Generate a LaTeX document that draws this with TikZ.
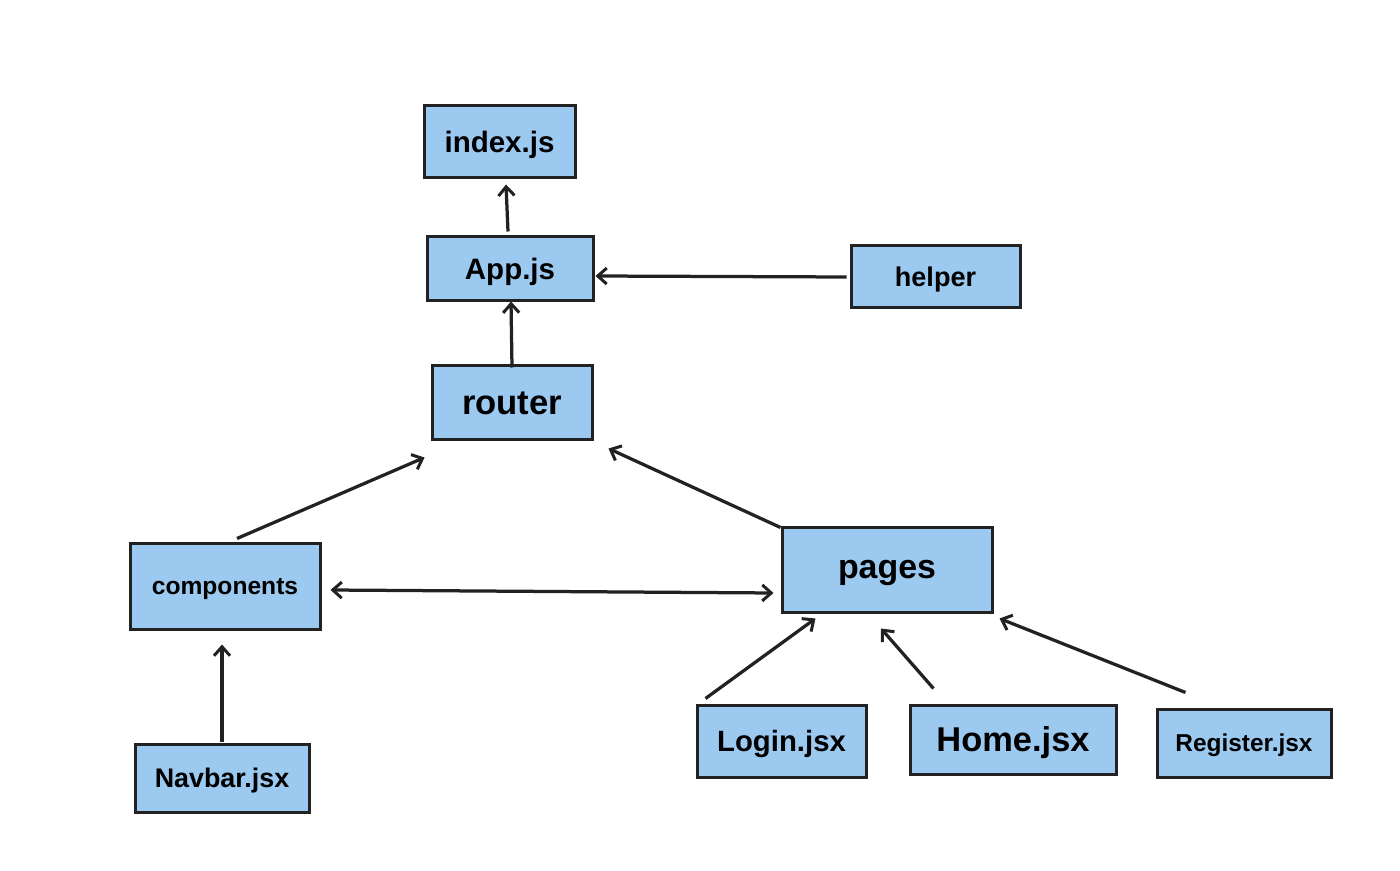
\documentclass[tikz,border=0pt]{standalone}
\usepackage{fontspec}
\setmainfont{Liberation Sans}
\usetikzlibrary{arrows.meta}
\definecolor{boxblue}{HTML}{9BC9EF}
\definecolor{inkgray}{HTML}{222222}

\begin{document}
\begin{tikzpicture}[x=0.02cm, y=-0.02cm,
    box/.style={draw=inkgray, fill=boxblue, line width=0.06cm, inner sep=0pt, text depth=0pt, font=\bfseries},
    arr/.style={draw=inkgray, line width=0.065cm, -{Straight Barb[length=0.18cm, width=0.32cm, line width=0.06cm]}}]
    \def \px {0.02cm}
    \useasboundingbox (0,0) rectangle (1400,871);
    % boxes
    \node[box, minimum width=151*\px, minimum height=72*\px, font=\bfseries\fontsize{16.8}{18}\selectfont] (index) at (499.5,142) {index.js};
    \node[box, minimum width=166*\px, minimum height=64*\px, font=\bfseries\fontsize{16.8}{18}\selectfont] (app) at (510,269) {App.js};
    \node[box, minimum width=169*\px, minimum height=62*\px, font=\bfseries\fontsize{15.4}{17}\selectfont] (helper) at (935.5,277) {helper};
    \node[box, minimum width=160*\px, minimum height=74*\px, font=\bfseries\fontsize{19.7}{21}\selectfont] (router) at (512,403) {router};
    \node[box, minimum width=190*\px, minimum height=86*\px, font=\bfseries\fontsize{14}{16}\selectfont] (comps) at (225,586) {components};
    \node[box, minimum width=210*\px, minimum height=85*\px, font=\bfseries\fontsize{19.3}{21}\selectfont] (pages) at (887,569.5) {pages};
    \node[box, minimum width=174*\px, minimum height=68*\px, font=\bfseries\fontsize{15.3}{17}\selectfont] (navbar) at (222,778) {Navbar.jsx};
    \node[box, minimum width=169*\px, minimum height=72*\px, font=\bfseries\fontsize{16.7}{18}\selectfont] (login) at (781.5,741) {Login.jsx};
    \node[box, minimum width=206*\px, minimum height=69*\px, font=\bfseries\fontsize{19.6}{21}\selectfont] (home) at (1013,739.5) {Home.jsx};
    \node[box, minimum width=174*\px, minimum height=68*\px, font=\bfseries\fontsize{13.9}{16}\selectfont] (register) at (1244,743) {Register.jsx};
    % arrows
    \draw[arr] ([shift={(-2,-4)}]app.north) -- ([shift={(6.5,5)}]index.south);
    \draw[arr] ([shift={(-3,0)}]helper.west) -- ([shift={(1,7)}]app.east);
    \draw[arr] ([shift={(0,3)}]router.north) -- ([shift={(1,-1)}]app.south);
    \draw[arr] ([shift={(12,-3)}]comps.north) -- ([shift={(-6,16)}]router.south west);
    \draw[arr] ([shift={(0,2)}]pages.north west) -- ([shift={(15,7)}]router.south east);
    \draw[arr, {Straight Barb[length=0.18cm, width=0.32cm, line width=0.06cm]}-{Straight Barb[length=0.18cm, width=0.32cm, line width=0.06cm]}]
      ([shift={(9,4)}]comps.east) -- ([shift={(-7,23.5)}]pages.west);
    \draw[arr] ([shift={(0,-1)}]navbar.north) -- ([shift={(-3,14)}]comps.south);
    \draw[arr] ([shift={(10,-5)}]login.north west) -- ([shift={(35,5)}]pages.south west);
    \draw[arr] ([shift={(25,-15)}]home.north west) -- ([shift={(-6,15)}]pages.south);
    \draw[arr] ([shift={(30,-15)}]register.north west) -- ([shift={(6,5)}]pages.south east);
\end{tikzpicture}
\end{document}
